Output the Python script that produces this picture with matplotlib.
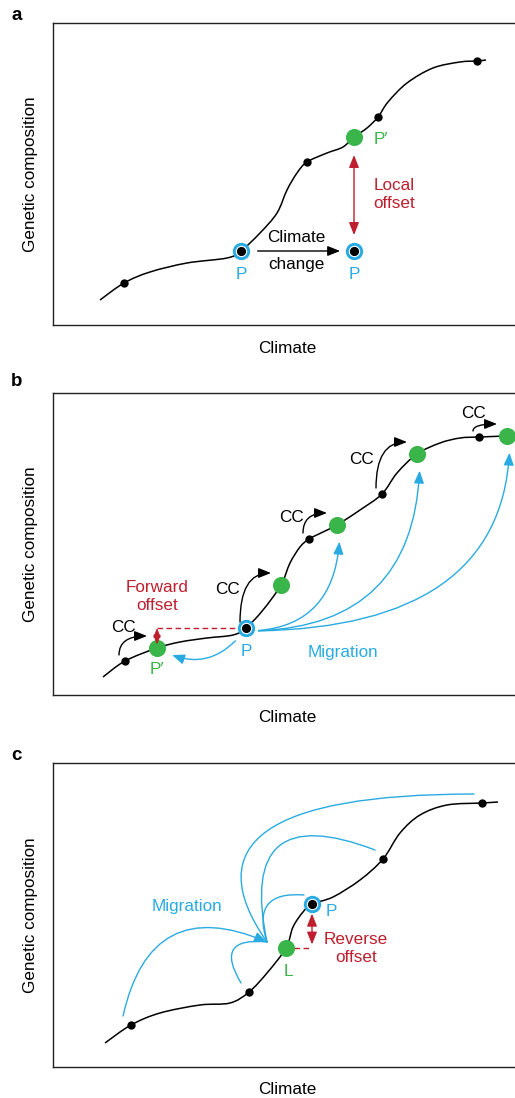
import numpy as np
import matplotlib
matplotlib.use("Agg")
import matplotlib.pyplot as plt
from matplotlib.path import Path
from matplotlib.patches import PathPatch, FancyArrowPatch

plt.rcParams['font.family'] = ['Liberation Sans', 'DejaVu Sans']

BLEU = '#29abe2'
VERT = '#39b54a'
ROUGE = '#be1e2d'
TAILLE = 12.3

# ---- panneau a : compensation locale ----
a_courbe_x = [47, 71, 97, 134, 174, 188, 207, 224, 234, 244, 254, 274, 290, 301, 314, 325, 335, 354, 380, 407, 424, 433]
a_courbe_y = [25, 42, 53, 62, 67, 74, 92, 112, 135, 152, 163, 172, 178, 188, 197, 208, 223, 242, 257, 263, 264, 265]
a_points_x = [71, 254, 325, 424]
a_points_y = [42, 163, 208, 264]
a_pop = [188, 74]          # P, climat actuel
a_pop_futur = [301, 74]    # P apres changement climatique
a_pop_prime = [301, 188]   # P' (composition requise)

# ---- panneau b : compensation avant (forward offset) ----
b_courbe_x = [50, 72, 104, 127, 154, 180, 193, 210, 228, 237, 247, 256, 270, 284, 307, 329, 344, 364, 387, 407, 426, 454]
b_courbe_y = [18, 34, 47, 53, 57, 60, 67, 85, 110, 132, 148, 156, 163, 170, 185, 201, 222, 241, 252, 257, 258, 259]
b_points_x = [72, 256, 329, 426]
b_points_y = [34, 156, 201, 258]
b_pop = [193, 67]
b_verts_x = [104, 228, 284, 364, 454]
b_verts_y = [47, 110, 170, 241, 259]
b_cc_x = [70, 175, 239, 308, 420]
b_cc_y = [67, 105, 177, 236, 281]

# ---- panneau c : compensation inverse (reverse offset) ----
c_courbe_x = [52, 78, 107, 147, 177, 196, 214, 233, 240, 250, 259, 280, 307, 330, 347, 367, 394, 429, 445]
c_courbe_y = [24, 42, 54, 62, 64, 75, 94, 119, 140, 155, 163, 170, 187, 208, 234, 252, 262, 264, 265]
c_points_x = [78, 196, 330, 429]
c_points_y = [42, 75, 208, 264]
c_pop = [259, 163]   # P
c_local = [233, 119] # L
# sources des migrations vers L et leur courbure
c_sources_x = [78, 196, 259, 330, 429]
c_sources_y = [42, 75, 163, 208, 264]
c_connexions = ['arc3,rad=-0.6', 'arc3,rad=-1.0', 'arc3,rad=0.75', 'arc3,rad=0.92',
                'angle3,angleA=180,angleB=125']


def trace_courbe(ax, xs, ys):
    # courbe lisse passant par les points (Catmull-Rom -> Bezier)
    pts = np.column_stack([xs, ys]).astype(float)
    ext = np.vstack([pts[0], pts, pts[-1]])
    verts = [pts[0]]
    codes = [Path.MOVETO]
    for i in range(1, len(ext) - 2):
        p0, p1, p2, p3 = ext[i - 1], ext[i], ext[i + 1], ext[i + 2]
        verts += [p1 + (p2 - p0) / 6, p2 - (p3 - p1) / 6, p2]
        codes += [Path.CURVE4] * 3
    ax.add_patch(PathPatch(Path(verts, codes), fill=False, lw=1.1, color='black', zorder=2))


def fleche(ax, a, b, couleur, style='-|>', conn='arc3,rad=0', sA=0, sB=0, lw=1.0, ech=10, z=3):
    if style != '-':
        style = style + ',head_length=0.75,head_width=0.3'
    p = FancyArrowPatch(tuple(a), tuple(b), arrowstyle=style, connectionstyle=conn,
                        shrinkA=sA, shrinkB=sB, mutation_scale=ech, color=couleur,
                        lw=lw, zorder=z)
    ax.add_patch(p)


def points(ax, x, y, taille, couleur, z):
    ax.plot(x, y, 'o', ms=taille, mew=0, color=couleur, zorder=z)


def pop_bleue(ax, x, y):
    points(ax, x, y, 12.5, BLEU, 5)
    points(ax, x, y, 8.2, 'white', 5)
    points(ax, x, y, 6.6, 'black', 6)


def texte(ax, x, y, s, couleur='black'):
    ax.text(x, y, s, color=couleur, ha='center', va='center', fontsize=TAILLE, zorder=7)


def cadre(fig, haut, bas):
    # position en pixels dans une figure 515 x 1098
    ax = fig.add_axes([53 / 515, 1 - bas / 1098, 468 / 515, (bas - haut) / 1098])
    h = bas - haut
    ax.set_xlim(0, 468)
    ax.set_ylim(0, h)
    ax.set_xticks([])
    ax.set_yticks([])
    for s in ax.spines.values():
        s.set_linewidth(1.0)
        s.set_color('#222222')
    ax.text(-22, h / 2, 'Genetic composition', rotation=90, ha='center', va='center',
            fontsize=TAILLE, clip_on=False)
    ax.text(234, -23, 'Climate', ha='center', va='center', fontsize=TAILLE, clip_on=False)
    return ax


fig = plt.figure(figsize=(5.15, 10.98), dpi=100)
for lettre, ypix in [('a', 15), ('b', 382), ('c', 756)]:
    fig.text(11 / 515, 1 - ypix / 1098, lettre, fontsize=13.5, fontweight='bold',
             ha='left', va='center')

# ---------- a ----------
ax = cadre(fig, 23, 325)
trace_courbe(ax, a_courbe_x, a_courbe_y)
points(ax, a_points_x, a_points_y, 6.0, 'black', 4)
pop_bleue(ax, *a_pop)
pop_bleue(ax, *a_pop_futur)
points(ax, *a_pop_prime, 12.3, VERT, 5)
fleche(ax, a_pop, a_pop_futur, 'black', sA=12, sB=10)
fleche(ax, a_pop_prime, a_pop_futur, ROUGE, style='<|-|>', sA=13, sB=11.5)
texte(ax, 243, 88, 'Climate')
texte(ax, 243, 61, 'change')
texte(ax, a_pop[0], 51, 'P', BLEU)
texte(ax, a_pop_futur[0], 51, 'P', BLEU)
texte(ax, 328, 185, 'P\u2032', VERT)
texte(ax, 341, 140, 'Local', ROUGE)
texte(ax, 341, 122, 'offset', ROUGE)

# ---------- b ----------
ax = cadre(fig, 393, 695)
trace_courbe(ax, b_courbe_x, b_courbe_y)
points(ax, b_points_x, b_points_y, 6.0, 'black', 4)
points(ax, b_verts_x, b_verts_y, 12.3, VERT, 5)
pop_bleue(ax, *b_pop)
# P' et compensation avant
p_prime = [b_verts_x[0], b_verts_y[0]]
ax.plot([p_prime[0], b_pop[0] - 8], [b_pop[1], b_pop[1]], color=ROUGE, lw=1.0,
        dashes=(4, 2.5), zorder=3)
fleche(ax, [p_prime[0], b_pop[1]], p_prime, ROUGE, style='<|-|>', sA=0, sB=2.5, ech=7, z=6)
# changement climatique : point noir -> cercle vert
depart_x = [b_points_x[0], b_pop[0]] + b_points_x[1:]
depart_y = [b_points_y[0], b_pop[1]] + b_points_y[1:]
for i in range(5):
    fleche(ax, [depart_x[i] - 6, depart_y[i] + 6], [b_verts_x[i] - 10, b_verts_y[i] + 12],
           'black', conn='angle3,angleA=90,angleB=0')
    texte(ax, b_cc_x[i], b_cc_y[i], 'CC')
# migrations depuis P
fleche(ax, b_pop, p_prime, BLEU, conn='arc3,rad=-0.45', sA=12, sB=12)
for i in range(2, 5):
    fleche(ax, [b_pop[0], b_pop[1] - 3], [b_verts_x[i] + 3, b_verts_y[i]], BLEU,
           conn='angle3,angleA=0,angleB=90', sA=9, sB=12)
texte(ax, 104, 108, 'Forward', ROUGE)
texte(ax, 104, 89, 'offset', ROUGE)
texte(ax, p_prime[0], 25, 'P\u2032', VERT)
texte(ax, b_pop[0], 44, 'P', BLEU)
texte(ax, 290, 43, 'Migration', BLEU)

# ---------- c ----------
ax = cadre(fig, 763, 1067)
trace_courbe(ax, c_courbe_x, c_courbe_y)
points(ax, c_points_x, c_points_y, 6.0, 'black', 4)
points(ax, *c_local, 12.3, VERT, 5)
pop_bleue(ax, *c_pop)
ax.plot([c_local[0] + 8, c_pop[0]], [c_local[1], c_local[1]], color=ROUGE, lw=1.0,
        dashes=(4, 2.5), zorder=3)
fleche(ax, c_pop, [c_pop[0], c_local[1]], ROUGE, style='<|-|>', sA=7, sB=2.5)
cible = [c_local[0] - 19, c_local[1] + 6]
for i in range(5):
    fleche(ax, [c_sources_x[i] - 8, c_sources_y[i] + 9], cible, BLEU,
           style='-|>' if i == 0 else '-', conn=c_connexions[i])
texte(ax, 278, 155, 'P', BLEU)
texte(ax, 235, 96, 'L', VERT)
texte(ax, 303, 127, 'Reverse', ROUGE)
texte(ax, 303, 110, 'offset', ROUGE)
texte(ax, 134, 161, 'Migration', BLEU)

fig.savefig('out.png', dpi=100)
